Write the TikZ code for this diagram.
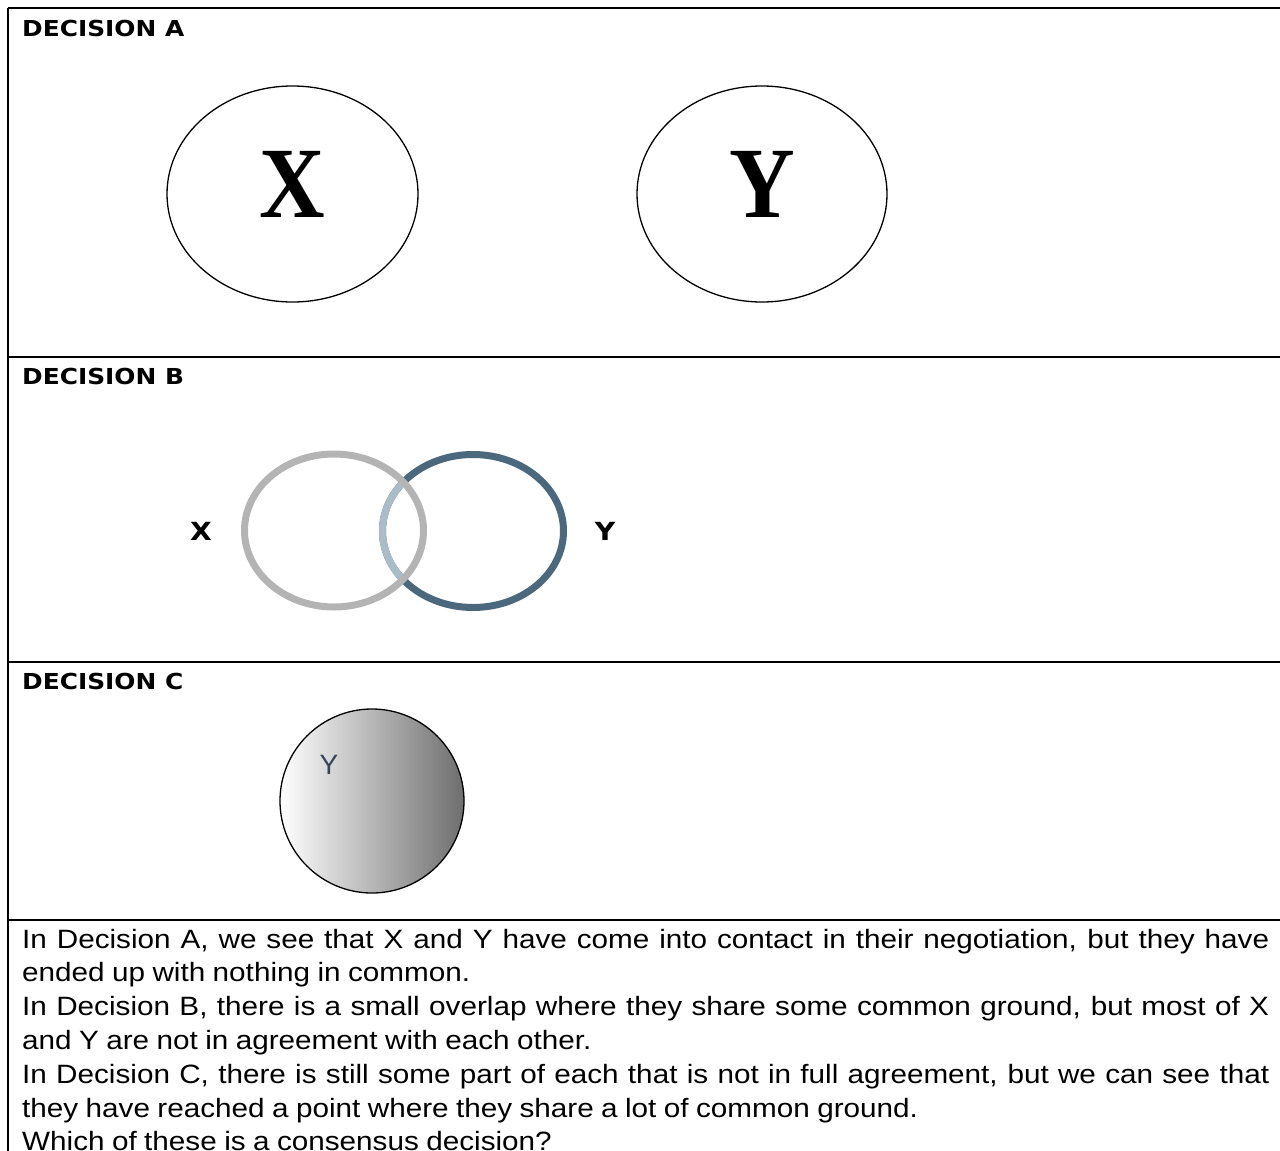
\documentclass[tikz,border=0pt]{standalone}
\usepackage{fontspec}
\setmainfont{Liberation Sans}
\newfontfamily\bodyfont{Liberation Sans}[FakeStretch=1.12]
\newfontfamily\headfont{DejaVu Sans}[FakeStretch=1.13]
\newfontfamily\bigserif{Liberation Serif}[FakeStretch=0.9]
\usetikzlibrary{shapes.geometric}

\definecolor{ringgray}{HTML}{B4B4B4}
\definecolor{ringblue}{HTML}{4B687D}
\definecolor{ringpale}{HTML}{A9BCC7}
\definecolor{labelslate}{HTML}{34475A}

\begin{document}
\begin{tikzpicture}[x=1pt,y=-1pt,
  rule/.style={line width=2pt, black},
  head/.style={anchor=base west, inner sep=0pt,
    font=\headfont\bfseries\fontsize{22}{26}\selectfont},
  oval/.style={ellipse, draw=black, line width=1.3pt, inner sep=0pt},
  bigletter/.style={anchor=base, inner sep=0pt,
    font=\bigserif\bfseries\fontsize{101}{110}\selectfont},
  sidelabel/.style={anchor=base, inner sep=0pt,
    font=\headfont\bfseries\fontsize{25}{30}\selectfont},
  ring/.style={ellipse, draw, line width=7pt, inner sep=0pt}]

\useasboundingbox (0,0) rectangle (1280,1151);

% table rules
\draw[rule] (8,8) -- (1281,8);
\draw[rule] (8,8) -- (8,1152);
\draw[rule] (8,357) -- (1281,357);
\draw[rule] (8,662) -- (1281,662);
\draw[rule] (8,920) -- (1281,920);

% section headings
\node[head] (hA) at (22,36) {DECISION A};
\node[head] (hB) at (22,384) {DECISION B};
\node[head] (hC) at (22,689) {DECISION C};

% Decision A: two separate ovals
\node[oval, minimum width=251pt, minimum height=216pt] (ovX) at (292.5,194) {};
\node[oval, minimum width=250pt, minimum height=216pt] (ovY) at (762,194) {};
\node[bigletter] (bigX) at (292,217) {X};
\node[bigletter] (bigY) at (762,217) {Y};

% Decision B: overlapping rings
\node[ring, draw=ringblue, minimum width=181pt, minimum height=153pt] (rY) at (473,531) {};
\begin{scope}
  \clip (334,530.5) ellipse (89.5 and 76.5);
  \draw[ringpale, line width=7pt] (473,531) ellipse (90.5 and 76.5);
\end{scope}
\node[ring, draw=ringgray, minimum width=179pt, minimum height=153pt] (rX) at (334,530.5) {};
\node[sidelabel] (lX) at (201,540) {X};
\node[sidelabel] (lY) at (605,540) {Y};

% Decision C: single shaded circle
\node[circle, draw=black, line width=1.3pt, minimum size=184pt, inner sep=0pt,
      left color=white, right color=black!57] (cC) at (372,801) {};
\node[anchor=base, inner sep=0pt, text=labelslate,
      font=\fontsize{28}{32}\selectfont] (cY) at (329,774) {Y};

% explanation
\node[anchor=base west, inner sep=0pt] (body) at (22,948) {\parbox[t]{1247pt}{%
\bodyfont\fontsize{26.5}{33.8}\selectfont
\spaceskip=0.28em plus 0.6em minus 0.14em
In Decision A, we see that X and Y have come into contact in their negotiation, but they have\linebreak
ended up with nothing in common.\par
In Decision B, there is a small overlap where they share some common ground, but most of X\linebreak
and Y are not in agreement with each other.\par
In Decision C, there is still some part of each that is not in full agreement, but we can see that\linebreak
they have reached a point where they share a lot of common ground.\par
Which of these is a consensus decision?}};
\end{tikzpicture}
\end{document}
